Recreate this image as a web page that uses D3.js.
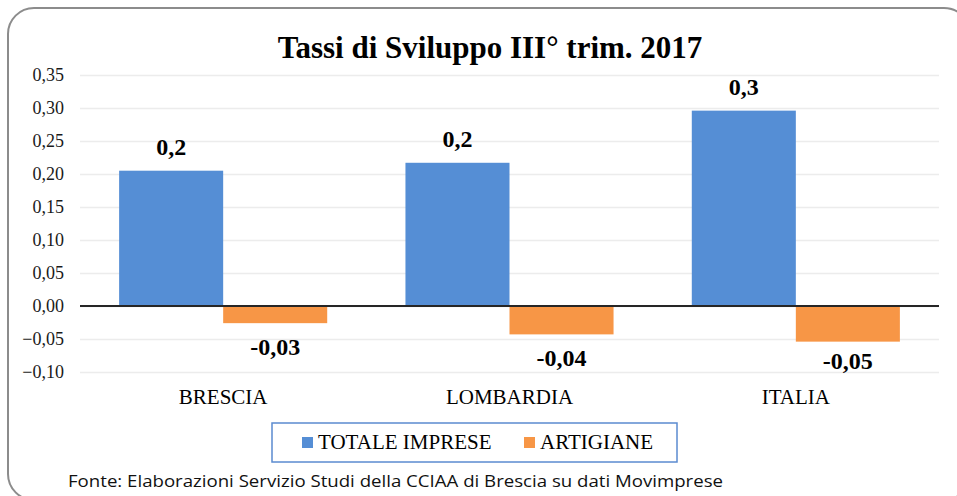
<!DOCTYPE html>
<html>
<head>
<meta charset="utf-8">
<script src="https://cdn.jsdelivr.net/npm/d3@7"></script>
<style>
  body { margin: 0; background: #fff; }
  svg { display: block; }
</style>
</head>
<body>
<svg class="svg_chart" width="957" height="496"></svg>
<script>
// data
var categories = ["BRESCIA", "LOMBARDIA", "ITALIA"];
var seriesNames = ["TOTALE IMPRESE", "ARTIGIANE"];
var totaleImprese = [0.205, 0.217, 0.296];
var artigiane = [-0.026, -0.043, -0.054];
var totaleLabels = ["0,2", "0,2", "0,3"];
var artigianeLabels = ["-0,03", "-0,04", "-0,05"];
var tickValues = [-0.10, -0.05, 0, 0.05, 0.10, 0.15, 0.20, 0.25, 0.30, 0.35];

var colors = ["#558ed5", "#f79646"];
var serif = "'Liberation Serif', 'Times New Roman', serif";

var svg = d3.select(".svg_chart"),
    margin = {top: 75, right: 18, bottom: 124, left: 80},
    width = +svg.attr("width") - margin.left - margin.right,
    height = +svg.attr("height") - margin.top - margin.bottom;

// outer rounded frame
svg.append("rect")
    .attr("x", 8).attr("y", 8)
    .attr("width", 962).attr("height", 492)
    .attr("rx", 26).attr("ry", 26)
    .attr("fill", "#fff")
    .attr("stroke", "#8c8c8c")
    .attr("stroke-width", 2);

var g = svg.append("g").attr("transform", "translate(" + margin.left + "," + margin.top + ")");

var x0 = d3.scaleBand().domain(categories).range([0, width]).padding(0);
var x1 = d3.scaleBand().domain(seriesNames).range([0, x0.bandwidth()]).paddingInner(0).paddingOuter(0.376);
var y = d3.scaleLinear().domain([-0.10, 0.35]).range([height, 0]);

var fmt = function(d) { return d3.format(".2f")(d).replace(".", ","); };

// gridlines
g.append("g")
    .attr("class", "grid")
    .call(d3.axisLeft(y).tickValues(tickValues).tickSize(-width).tickFormat(""))
    .call(function(s) {
      s.select(".domain").remove();
      s.selectAll("line").attr("stroke", "#ececec").attr("stroke-width", 1.3);
    });

// y axis labels
g.append("g")
    .attr("class", "y axis")
    .call(d3.axisLeft(y).tickValues(tickValues).tickSize(0).tickPadding(16).tickFormat(fmt))
    .call(function(s) {
      s.select(".domain").remove();
      s.selectAll("text")
        .attr("font-family", serif)
        .attr("font-size", "18px")
        .attr("fill", "#1a1a1a");
    });

var rows = categories.map(function(c, i) {
  return [
    {cat: c, s: seriesNames[0], v: totaleImprese[i], lab: totaleLabels[i], k: 0},
    {cat: c, s: seriesNames[1], v: artigiane[i], lab: artigianeLabels[i], k: 1}
  ];
});
var flat = [].concat.apply([], rows);

g.selectAll(".bar")
  .data(flat)
  .enter().append("rect")
    .attr("class", "bar")
    .attr("x", function(d) { return x0(d.cat) + x1(d.s); })
    .attr("y", function(d) { return y(Math.max(0, d.v)); })
    .attr("width", x1.bandwidth())
    .attr("height", function(d) { return Math.abs(y(d.v) - y(0)); })
    .attr("fill", function(d) { return colors[d.k]; });

// zero line
g.append("line")
    .attr("x1", 0).attr("x2", width)
    .attr("y1", y(0)).attr("y2", y(0))
    .attr("stroke", "#262626")
    .attr("stroke-width", 2);

// data labels
g.selectAll(".label")
  .data(flat)
  .enter().append("text")
    .attr("class", "label")
    .attr("x", function(d) { return x0(d.cat) + x1(d.s) + x1.bandwidth() / 2; })
    .attr("y", function(d) {
      return d.v >= 0 ? y(d.v) - 15.5 : Math.min(y(d.v) + 32, height - 3);
    })
    .attr("text-anchor", "middle")
    .attr("font-family", serif)
    .attr("font-weight", "bold")
    .attr("font-size", "24px")
    .attr("fill", "#000")
    .text(function(d) { return d.lab; });

// category labels
g.selectAll(".cat")
  .data(categories)
  .enter().append("text")
    .attr("class", "cat")
    .attr("x", function(d) { return x0(d) + x0.bandwidth() / 2; })
    .attr("y", height + 32)
    .attr("text-anchor", "middle")
    .attr("font-family", serif)
    .attr("font-size", "21px")
    .attr("fill", "#000")
    .text(function(d) { return d; });

// title
svg.append("text")
    .attr("x", 490).attr("y", 58)
    .attr("text-anchor", "middle")
    .attr("font-family", serif)
    .attr("font-weight", "bold")
    .attr("font-size", "31px")
    .attr("fill", "#000")
    .text("Tassi di Sviluppo III° trim. 2017");

// legend
var legend = svg.append("g");
legend.append("rect")
    .attr("x", 272).attr("y", 423)
    .attr("width", 405).attr("height", 39)
    .attr("fill", "#fff")
    .attr("stroke", "#5b8bd0")
    .attr("stroke-width", 1.5);

var legendX = [302, 524];
seriesNames.forEach(function(name, i) {
  legend.append("rect")
      .attr("x", legendX[i]).attr("y", 437)
      .attr("width", 11).attr("height", 11)
      .attr("fill", colors[i]);
  legend.append("text")
      .attr("x", legendX[i] + 16).attr("y", 449)
      .attr("font-family", serif)
      .attr("font-size", "21px")
      .attr("fill", "#000")
      .text(name);
});

// source note
svg.append("text")
    .attr("x", 68).attr("y", 487)
    .attr("font-family", "'Open Sans', 'Noto Sans', sans-serif")
    .attr("font-size", "16px")
    .attr("fill", "#111")
    .attr("textLength", 655)
    .attr("lengthAdjust", "spacingAndGlyphs")
    .text("Fonte: Elaborazioni Servizio Studi della CCIAA di Brescia su dati Movimprese");
</script>
</body>
</html>
